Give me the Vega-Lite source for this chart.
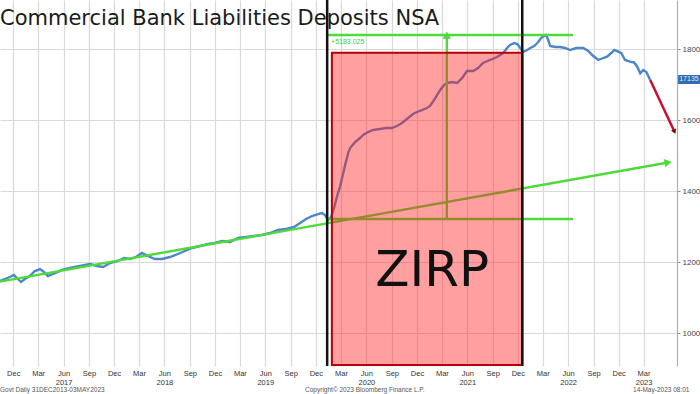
{
  "$schema": "https://vega.github.io/schema/vega-lite/v6.json",
  "width": 677,
  "height": 366,
  "autosize": {"type": "none"},
  "padding": {"left": 0, "top": 0, "right": 23, "bottom": 28},
  "background": "white",
  "config": {"view": {"stroke": null}},
  "title": {
    "text": "Commercial Bank Liabilities Deposits NSA",
    "anchor": "start",
    "frame": "group",
    "orient": "top",
    "offset": -47,
    "baseline": "alphabetic",
    "font": "DejaVu Sans",
    "fontSize": 21,
    "fontWeight": "normal",
    "color": "#1a1a1a"
  },
  "datasets": {
    "dep": [
      {"d": "2016-10-14", "v": 11473}, {"d": "2016-11-01", "v": 11530}, {"d": "2016-11-19", "v": 11586},
      {"d": "2016-12-03", "v": 11642}, {"d": "2016-12-18", "v": 11530}, {"d": "2016-12-29", "v": 11445},
      {"d": "2017-01-12", "v": 11530}, {"d": "2017-01-30", "v": 11614}, {"d": "2017-02-17", "v": 11755},
      {"d": "2017-03-08", "v": 11811}, {"d": "2017-03-22", "v": 11727}, {"d": "2017-04-05", "v": 11614},
      {"d": "2017-05-01", "v": 11698}, {"d": "2017-05-26", "v": 11783}, {"d": "2017-06-24", "v": 11839},
      {"d": "2017-07-30", "v": 11896}, {"d": "2017-09-05", "v": 11952}, {"d": "2017-09-30", "v": 11896},
      {"d": "2017-10-22", "v": 11867}, {"d": "2017-11-16", "v": 11980}, {"d": "2017-12-15", "v": 12037},
      {"d": "2018-01-06", "v": 12121}, {"d": "2018-01-27", "v": 12093}, {"d": "2018-02-18", "v": 12149},
      {"d": "2018-03-12", "v": 12262}, {"d": "2018-04-02", "v": 12178}, {"d": "2018-04-28", "v": 12093},
      {"d": "2018-05-23", "v": 12093}, {"d": "2018-06-21", "v": 12149}, {"d": "2018-07-20", "v": 12234},
      {"d": "2018-08-14", "v": 12318}, {"d": "2018-09-09", "v": 12403}, {"d": "2018-10-08", "v": 12459},
      {"d": "2018-11-06", "v": 12516}, {"d": "2018-12-01", "v": 12544}, {"d": "2018-12-27", "v": 12600},
      {"d": "2019-01-25", "v": 12572}, {"d": "2019-02-23", "v": 12684}, {"d": "2019-03-24", "v": 12713},
      {"d": "2019-04-21", "v": 12741}, {"d": "2019-05-20", "v": 12769}, {"d": "2019-06-18", "v": 12825},
      {"d": "2019-07-17", "v": 12910}, {"d": "2019-08-15", "v": 12938}, {"d": "2019-09-13", "v": 12994},
      {"d": "2019-10-05", "v": 13107}, {"d": "2019-10-27", "v": 13220}, {"d": "2019-11-17", "v": 13304},
      {"d": "2019-12-09", "v": 13360}, {"d": "2019-12-23", "v": 13389}, {"d": "2020-01-03", "v": 13332},
      {"d": "2020-01-14", "v": 13192}, {"d": "2020-01-25", "v": 13276}, {"d": "2020-02-05", "v": 13530},
      {"d": "2020-02-16", "v": 13868}, {"d": "2020-02-27", "v": 14149}, {"d": "2020-03-05", "v": 14375},
      {"d": "2020-03-16", "v": 14741}, {"d": "2020-03-27", "v": 15079}, {"d": "2020-04-03", "v": 15220},
      {"d": "2020-04-21", "v": 15389}, {"d": "2020-05-09", "v": 15501}, {"d": "2020-05-20", "v": 15586},
      {"d": "2020-06-07", "v": 15670}, {"d": "2020-06-25", "v": 15727}, {"d": "2020-07-20", "v": 15755},
      {"d": "2020-08-11", "v": 15783}, {"d": "2020-09-01", "v": 15783}, {"d": "2020-09-19", "v": 15839},
      {"d": "2020-10-08", "v": 15924}, {"d": "2020-10-30", "v": 16065}, {"d": "2020-11-17", "v": 16177},
      {"d": "2020-12-01", "v": 16234}, {"d": "2020-12-19", "v": 16290}, {"d": "2021-01-06", "v": 16346},
      {"d": "2021-01-17", "v": 16403}, {"d": "2021-02-01", "v": 16572}, {"d": "2021-02-12", "v": 16713},
      {"d": "2021-02-23", "v": 16853}, {"d": "2021-03-09", "v": 16994}, {"d": "2021-03-20", "v": 17051},
      {"d": "2021-04-07", "v": 17079}, {"d": "2021-04-25", "v": 17051}, {"d": "2021-05-13", "v": 17189},
      {"d": "2021-05-31", "v": 17389}, {"d": "2021-06-22", "v": 17389}, {"d": "2021-07-10", "v": 17473},
      {"d": "2021-07-28", "v": 17614}, {"d": "2021-08-22", "v": 17699}, {"d": "2021-09-17", "v": 17783},
      {"d": "2021-10-09", "v": 17896}, {"d": "2021-10-23", "v": 18037}, {"d": "2021-11-03", "v": 18121},
      {"d": "2021-11-18", "v": 18177}, {"d": "2021-11-29", "v": 18149}, {"d": "2021-12-10", "v": 18037},
      {"d": "2021-12-20", "v": 17924}, {"d": "2022-01-04", "v": 17980}, {"d": "2022-01-15", "v": 18037},
      {"d": "2022-01-29", "v": 18093}, {"d": "2022-02-13", "v": 18206}, {"d": "2022-02-23", "v": 18318},
      {"d": "2022-03-06", "v": 18375}, {"d": "2022-03-13", "v": 18403}, {"d": "2022-03-21", "v": 18262},
      {"d": "2022-03-28", "v": 18093}, {"d": "2022-04-15", "v": 18065}, {"d": "2022-05-03", "v": 18065},
      {"d": "2022-05-21", "v": 18037}, {"d": "2022-06-08", "v": 17980}, {"d": "2022-06-30", "v": 18037},
      {"d": "2022-07-26", "v": 18037}, {"d": "2022-08-13", "v": 17952}, {"d": "2022-08-27", "v": 17839},
      {"d": "2022-09-18", "v": 17699}, {"d": "2022-10-06", "v": 17755}, {"d": "2022-10-20", "v": 17792},
      {"d": "2022-11-04", "v": 17896}, {"d": "2022-11-15", "v": 17980}, {"d": "2022-11-29", "v": 17932},
      {"d": "2022-12-10", "v": 17896}, {"d": "2022-12-24", "v": 17699}, {"d": "2023-01-11", "v": 17651},
      {"d": "2023-01-26", "v": 17630}, {"d": "2023-02-06", "v": 17510}, {"d": "2023-02-17", "v": 17324},
      {"d": "2023-02-28", "v": 17417}, {"d": "2023-03-11", "v": 17361}, {"d": "2023-03-25", "v": 17135}
    ],
    "greenUnder": [
      {"seg": "slope", "d": "2016-10-14", "v": 11454}, {"seg": "slope", "d": "2023-05-29", "v": 14811},
      {"seg": "low", "d": "2020-01-07", "v": 13220}, {"seg": "low", "d": "2022-06-19", "v": 13220},
      {"seg": "vert", "d": "2021-03-19", "v": 13220}, {"seg": "vert", "d": "2021-03-19", "v": 18403},
      {"seg": "up", "d": "2020-01-07", "v": 18403}, {"seg": "up", "d": "2022-06-19", "v": 18403}
    ],
    "greenHeads": [
      {"d": "2023-05-29", "v": 14811, "shape": "triangle-right", "angle": 350},
      {"d": "2021-03-19", "v": 18403, "shape": "triangle-up", "angle": 0}
    ],
    "box": [{"d1": "2020-01-28", "d2": "2021-12-17", "v1": 9107, "v2": 17904}],
    "rules": [{"d": "2020-01-11"}, {"d": "2021-12-17"}],
    "redArrow": [{"d": "2023-03-25", "v": 17135}, {"d": "2023-06-21", "v": 15679}],
    "redHead": [{"d": "2023-06-21", "v": 15679}],
    "tag": [{"d1": "2023-07-04", "d2": "2023-10-09", "v1": 17023, "v2": 17276, "d": "2023-07-08", "v": 17150, "label": "17135"}],
    "labels": [
      {"d": "2021-01-25", "v": 11332, "label": "ZIRP", "kind": "zirp"},
      {"d": "2020-01-25", "v": 18206, "label": "+5183.025", "kind": "green"}
    ],
    "footer": [
      {"d": "2016-10-14", "v": 8403, "label": "Govt  Daily  31DEC2013-03MAY2023"},
      {"d": "2019-10-23", "v": 8403, "label": "Copyright© 2023 Bloomberg Finance L.P."},
      {"d": "2023-01-22", "v": 8403, "label": "14-May-2023 08:01"}
    ]
  },
  "encoding": {
    "x": {
      "field": "d", "type": "temporal",
      "scale": {"type": "utc", "domain": [{"year": 2016, "month": 10, "date": 14, "utc": true}, {"year": 2023, "month": 6, "date": 30, "utc": true}]},
      "axis": {
        "orient": "bottom", "title": null, "grid": true, "gridColor": "#d9d9d9", "gridWidth": 1.2,
        "domain": false, "ticks": false, "labelFont": "Liberation Sans", "labelFontSize": 7.5, "labelColor": "#333",
        "labelPadding": 3, "labelLineHeight": 9, "labelFlush": false, "labelOverlap": false,
        "values": [
          {"year": 2016, "month": 12, "date": 1, "utc": true},
          {"year": 2017, "month": 3, "date": 1, "utc": true}, {"year": 2017, "month": 6, "date": 1, "utc": true}, {"year": 2017, "month": 9, "date": 1, "utc": true}, {"year": 2017, "month": 12, "date": 1, "utc": true},
          {"year": 2018, "month": 3, "date": 1, "utc": true}, {"year": 2018, "month": 6, "date": 1, "utc": true}, {"year": 2018, "month": 9, "date": 1, "utc": true}, {"year": 2018, "month": 12, "date": 1, "utc": true},
          {"year": 2019, "month": 3, "date": 1, "utc": true}, {"year": 2019, "month": 6, "date": 1, "utc": true}, {"year": 2019, "month": 9, "date": 1, "utc": true}, {"year": 2019, "month": 12, "date": 1, "utc": true},
          {"year": 2020, "month": 3, "date": 1, "utc": true}, {"year": 2020, "month": 6, "date": 1, "utc": true}, {"year": 2020, "month": 9, "date": 1, "utc": true}, {"year": 2020, "month": 12, "date": 1, "utc": true},
          {"year": 2021, "month": 3, "date": 1, "utc": true}, {"year": 2021, "month": 6, "date": 1, "utc": true}, {"year": 2021, "month": 9, "date": 1, "utc": true}, {"year": 2021, "month": 12, "date": 1, "utc": true},
          {"year": 2022, "month": 3, "date": 1, "utc": true}, {"year": 2022, "month": 6, "date": 1, "utc": true}, {"year": 2022, "month": 9, "date": 1, "utc": true}, {"year": 2022, "month": 12, "date": 1, "utc": true},
          {"year": 2023, "month": 3, "date": 1, "utc": true}
        ],
        "labelExpr": "[utcFormat(datum.value, '%b'), utcmonth(datum.value) == 5 ? utcFormat(datum.value, '%Y') : (utcmonth(datum.value) == 2 && utcyear(datum.value) == 2023 ? '2023' : '')]"
      }
    },
    "y": {
      "field": "v", "type": "quantitative",
      "scale": {"domain": [9079, 19389], "nice": false, "zero": false},
      "axis": {
        "orient": "right", "title": null, "grid": true, "gridColor": "#d9d9d9", "gridWidth": 1.2,
        "values": [10000, 12000, 14000, 16000, 18000], "format": "d",
        "domain": true, "domainColor": "#b0b0b0", "domainWidth": 1.2,
        "ticks": true, "tickSize": 3, "tickColor": "#888", "tickOffset": 0,
        "labelFont": "Liberation Sans", "labelFontSize": 8, "labelColor": "#444", "labelPadding": 2
      }
    }
  },
  "layer": [
    {"data": {"name": "dep"}, "mark": {"type": "line", "color": "#4a86c8", "strokeWidth": 2.4, "clip": true}},
    {"data": {"name": "greenUnder"}, "mark": {"type": "line", "color": "#4ddb3a", "strokeWidth": 2.4}, "encoding": {"detail": {"field": "seg"}}},
    {"data": {"name": "greenHeads"}, "mark": {"type": "point", "filled": true, "color": "#4ddb3a", "size": 70, "opacity": 1},
      "encoding": {"shape": {"field": "shape", "type": "nominal", "scale": null}, "angle": {"field": "angle", "type": "quantitative", "scale": null}}},
    {"data": {"name": "box"}, "mark": {"type": "rect", "fill": "#ff1a1a", "fillOpacity": 0.42, "stroke": "#b80000", "strokeWidth": 2},
      "encoding": {"x": {"field": "d1", "type": "temporal"}, "x2": {"field": "d2"}, "y": {"field": "v1", "type": "quantitative"}, "y2": {"field": "v2"}}},
    {"data": {"name": "rules"}, "mark": {"type": "rule", "color": "#111", "strokeWidth": 2.5}, "encoding": {"y": null}},
    {"data": {"name": "redArrow"}, "mark": {"type": "line", "color": "#c8102e", "strokeWidth": 2.5}, "encoding": {}},
    {"data": {"name": "redHead"}, "mark": {"type": "point", "shape": "triangle-right", "angle": 65, "filled": true, "color": "#7a0a0a", "size": 30, "opacity": 1}},
    {"data": {"name": "tag"}, "mark": {"type": "rect", "fill": "#2f6db5", "clip": false},
      "encoding": {"x": {"field": "d1", "type": "temporal"}, "x2": {"field": "d2"}, "y": {"field": "v1", "type": "quantitative"}, "y2": {"field": "v2"}}},
    {"data": {"name": "tag"}, "mark": {"type": "text", "color": "#dfe9f7", "font": "Liberation Sans", "fontSize": 7, "align": "left", "baseline": "middle"},
      "encoding": {"text": {"field": "label"}}},
    {"data": {"name": "labels"}, "transform": [{"filter": "datum.kind == 'zirp'"}],
      "mark": {"type": "text", "font": "DejaVu Sans", "fontSize": 50, "color": "#111", "align": "center", "baseline": "alphabetic"},
      "encoding": {"text": {"field": "label"}}},
    {"data": {"name": "labels"}, "transform": [{"filter": "datum.kind == 'green'"}],
      "mark": {"type": "text", "font": "Liberation Sans", "fontSize": 7, "color": "#3cc83c", "align": "left", "baseline": "middle"},
      "encoding": {"text": {"field": "label"}}},
    {"data": {"name": "footer"}, "mark": {"type": "text", "font": "Liberation Sans", "fontSize": 6.5, "color": "#555", "align": "left", "baseline": "middle"},
      "encoding": {"text": {"field": "label"}}}
  ]
}
